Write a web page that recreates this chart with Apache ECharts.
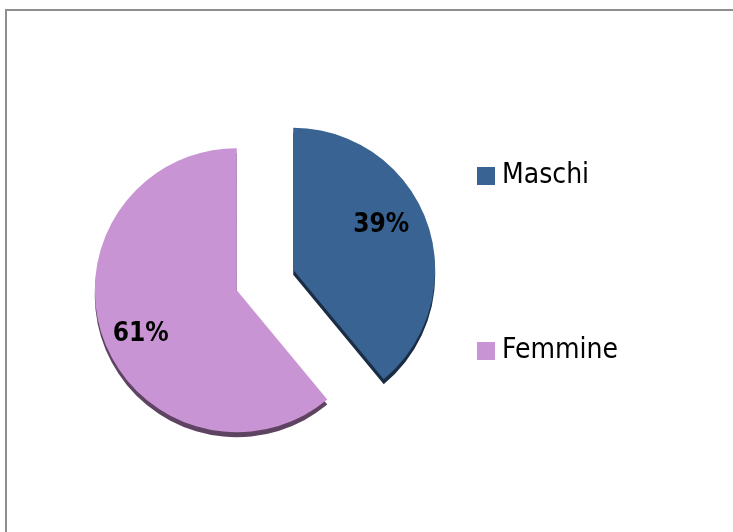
<!DOCTYPE html>
<html>
<head>
<meta charset="utf-8">
<script src="https://cdn.jsdelivr.net/npm/echarts@6/dist/echarts.min.js"></script>
<style>
  html, body { margin: 0; padding: 0; background: #fff; }
  #chart { width: 733px; height: 532px; }
</style>
</head>
<body>
<div id="chart"></div>
<script>
const categories = ['Maschi', 'Femmine'];
const values = [39, 61];
const colors = ['#386392', '#c994d4'];
const shadowColors = ['#1b2d44', '#5e4462'];
// small nudges of the % text like the original (blank line above / below)
const labelPadding = [[0, 16, 0, 0], [0, 0, 0, 0]];
const labelShift = ['up', 'down'];

const FONT = '"Liberation Sans Narrow", "DejaVu Sans Condensed", "Roboto", sans-serif';

const chart = echarts.init(document.getElementById('chart'));

const pieData = categories.map((name, i) => ({
  name: name,
  value: values[i],
  selected: true,
  itemStyle: {
    color: colors[i],
    shadowColor: shadowColors[i],
    shadowBlur: 0,
    shadowOffsetX: 0,
    shadowOffsetY: 5
  }
}));

// transparent copy, only used to place the % labels further out
const labelData = categories.map((name, i) => ({
  name: name,
  value: values[i],
  selected: true,
  label: { padding: labelPadding[i] }
}));

chart.setOption({
  animation: false,
  graphic: [
    {
      type: 'rect',
      shape: { x: 6, y: 10, width: 800, height: 600 },
      style: { fill: 'none', stroke: '#8f8f8f', lineWidth: 2 },
      silent: true
    }
  ],
  legend: {
    orient: 'vertical',
    left: 472,
    top: 157,
    itemWidth: 18,
    itemHeight: 18,
    itemGap: 147,
    icon: 'rect',
    selectedMode: false,
    data: categories,
    textStyle: {
      fontFamily: FONT,
      fontSize: 28,
      color: '#000',
      padding: [0, 0, 0, 2]
    }
  },
  series: [
    {
      type: 'pie',
      center: [265, 280],
      radius: [0, 142],
      startAngle: 90,
      clockwise: true,
      selectedMode: 'multiple',
      selectedOffset: 30,
      label: { show: false },
      labelLine: { show: false },
      emphasis: { disabled: true },
      data: pieData
    },
    {
      type: 'pie',
      center: [265, 280],
      radius: [56, 142],
      startAngle: 90,
      clockwise: true,
      selectedMode: 'multiple',
      selectedOffset: 30,
      silent: true,
      itemStyle: { color: 'rgba(0,0,0,0)' },
      emphasis: { disabled: true },
      label: {
        show: true,
        position: 'inside',
        formatter: function (p) {
          const txt = p.value + '%';
          return labelShift[p.dataIndex] === 'up' ? txt + '\n' : '\n' + txt;
        },
        fontFamily: FONT,
        fontWeight: 'bold',
        fontSize: 26,
        lineHeight: 20,
        color: '#000'
      },
      labelLine: { show: false },
      data: labelData
    }
  ]
});
</script>
</body>
</html>
